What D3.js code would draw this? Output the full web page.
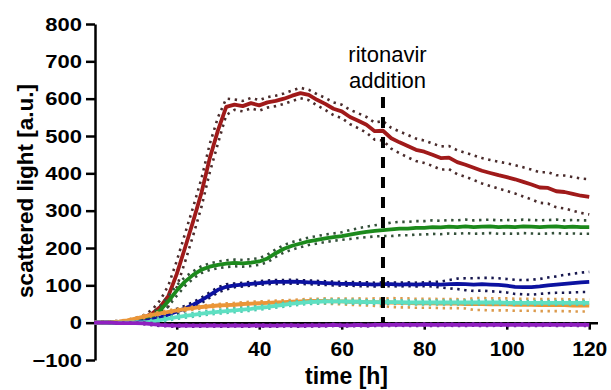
<!DOCTYPE html>
<html><head><meta charset="utf-8">
<script src="https://cdn.jsdelivr.net/npm/d3@7"></script>
<style>
html,body{margin:0;padding:0;background:#fff;}
svg{display:block;font-family:"Liberation Sans",Arial,sans-serif;}
</style></head>
<body>
<svg id="c" width="611" height="390"></svg>
<script>
const times = [0,2,4,6,8,10,12,14,16,18,20,22,24,26,28,30,32,34,36,38,40,42,44,46,48,50,52,54,56,58,60,62,64,66,68,70,72,74,76,78,80,82,84,86,88,90,92,94,96,98,100,102,104,106,108,110,112,114,116,118,120];

const redMean = [0,0,1,2,4,8,14,24,42,72,130,200,272,348,440,515,578,584,580,588,582,590,594,600,608,615,610,597,586,573,566,551,541,530,513,514,494,483,473,463,458,450,441,442,430,423,415,407,401,395,390,384,377,370,362,361,352,350,345,340,337];
const redSd = [2,2,2,3,3,4,6,10,18,28,35,38,38,38,38,35,22,14,14,14,14,14,14,14,14,14,14,15,16,17,18,19,20,21,23,26,28,29,30,30,30,30,31,31,32,32,33,34,35,36,37,38,39,40,41,42,43,44,45,46,47];

const greenMean = [0,0,0,1,2,4,8,16,33,58,86,110,128,142,150,155,158,160,159,161,164,172,186,198,206,212,218,222,226,229,232,236,240,243,246,248,250,252,252,254,254,256,255,257,256,258,256,257,258,256,257,256,258,257,256,257,258,256,257,256,256];
const greenSd = [2,2,2,2,2,2,4,8,12,14,14,12,10,9,9,9,9,9,9,9,9,10,10,10,10,10,10,10,10,10,10,12,13,14,15,16,18,18,18,18,18,18,18,18,18,18,18,18,18,18,18,18,18,18,18,18,18,18,18,18,18];

const blueMean = [0,0,0,0,1,2,4,8,14,22,30,38,48,60,74,88,96,100,102,104,106,108,109,109,110,109,108,107,106,105,104,104,103,103,102,103,103,102,103,102,103,103,102,103,104,103,102,103,102,101,99,96,95,95,97,100,102,104,106,108,109];
const blueSd = [2,2,2,2,2,2,2,2,7,7,7,7,7,7,7,7,7,5,5,5,5,5,5,5,5,5,5,5,5,5,5,5,5,5,5,5,5,5,5,5,5,6,8,11,14,16,17,17,18,18,18,19,19,20,20,21,22,24,25,26,27];

const orangeMean = [0,0,1,3,6,11,16,21,25,29,33,36,39,42,44,46,47,48,50,51,52,53,54,55,56,57,58,58,58,57,57,56,56,55,55,54,54,53,53,52,52,52,51,51,51,50,50,50,49,49,49,48,48,48,47,47,47,47,46,46,46];
const orangeSd = [2,2,2,2,2,2,4,4,4,4,4,4,4,4,4,4,5,5,5,5,5,5,5,5,5,5,6,6,7,7,8,8,9,9,10,10,12,12,12,12,12,12,12,12,12,12,16,16,16,16,16,16,16,16,16,16,16,16,16,16,16];

const turqMean = [0,0,0,0,0,1,1,3,7,11,15,18,21,24,27,29,31,33,35,37,40,42,45,48,51,53,55,56,57,57,57,56,56,55,55,55,55,55,54,54,54,54,54,54,54,54,54,54,54,54,53,53,53,53,53,53,53,53,53,53,53];
const turqSd = [1,1,1,1,1,1,1,5,5,5,5,5,5,5,5,5,5,5,5,5,5,5,5,5,5,5,5,5,5,5,5,5,5,5,5,5,5,5,5,5,5,5,5,5,5,5,5,5,5,5,5,5,5,5,5,5,5,5,5,5,5];

const purpleMean = [0,0,0,-1,-1,-1,-2,-4,-6,-7,-8,-7,-8,-8,-7,-8,-8,-7,-8,-8,-7,-8,-8,-7,-7,-8,-7,-7,-7,-6,-7,-7,-6,-7,-6,-6,-6,-5,-6,-6,-5,-6,-6,-5,-6,-6,-5,-6,-6,-5,-6,-6,-5,-6,-6,-5,-6,-6,-5,-6,-6];
const purpleSd = [1,1,1,1,1,1,2,3,3,3,3,3,3,3,3,3,3,3,3,3,3,3,3,3,3,3,3,3,3,3,3,3,3,3,3,3,3,3,3,3,3,3,3,3,3,3,3,3,3,3,3,3,3,3,3,3,3,3,3,3,3];

const xTicks = [20,40,60,80,100,120];
const yTicks = [-100,0,100,200,300,400,500,600,700,800];
const additionTime = 70;

const series = [
  {mean: redMean, sd: redSd, color: "#a01a1a", dot: "#4a2c2c"},
  {mean: greenMean, sd: greenSd, color: "#1c8a1c", dot: "#34503a"},
  {mean: blueMean, sd: blueSd, color: "#0c12a0", dot: "#16164e"},
  {mean: orangeMean, sd: orangeSd, color: "#eb9638", dot: "#dc9a4c"},
  {mean: turqMean, sd: turqSd, color: "#5ee0c2", dot: "#4fc8b0"},
  {mean: purpleMean, sd: purpleSd, color: "#9020c0", dot: "#5a1a80"}
];

const svg = d3.select("#c");
const x = d3.scaleLinear().domain([0,122]).range([94.2,597.5]);
const y = d3.scaleLinear().domain([-100,800]).range([360,24]);

// y axis
const ya = svg.append("g").attr("transform","translate(95,0)")
  .call(d3.axisLeft(y).tickValues(yTicks).tickSize(9).tickSizeOuter(0).tickPadding(4));
ya.select(".domain").attr("stroke","#000").attr("stroke-width",2.5);
ya.selectAll(".tick line").attr("stroke","#000").attr("stroke-width",2.5);
ya.selectAll(".tick text").attr("font-size",22).attr("font-weight","bold").attr("fill","#000")
  .attr("font-family","'Liberation Sans',Arial,sans-serif").attr("transform","scale(1,0.86)");

// x axis at zero
const xa = svg.append("g").attr("transform","translate(0,"+y(0)+")")
  .call(d3.axisBottom(x).tickValues(xTicks).tickSize(7).tickSizeOuter(0).tickPadding(11));
xa.select(".domain").attr("stroke","#000").attr("stroke-width",2.5);
xa.selectAll(".tick line").attr("stroke","#000").attr("stroke-width",2.5);
xa.selectAll(".tick text").attr("font-size",21).attr("font-weight","bold").attr("fill","#000")
  .attr("font-family","'Liberation Sans',Arial,sans-serif");

// data
const line = d3.line().x((d,i)=>x(times[i])).y(d=>y(d));
series.forEach(s=>{
  const up = s.mean.map((m,i)=>m + s.sd[i]);
  const lo = s.mean.map((m,i)=>m - s.sd[i]);
  [up,lo].forEach(arr=>{
    svg.append("path").datum(arr).attr("d",line).attr("fill","none")
      .attr("stroke",s.dot).attr("stroke-width",2.6).attr("stroke-dasharray","2.4,4.6");
  });
  svg.append("path").datum(s.mean).attr("d",line).attr("fill","none")
    .attr("stroke",s.color).attr("stroke-width",3.8).attr("stroke-linejoin","round");
});

// ritonavir addition marker
svg.append("line").attr("x1",x(additionTime)).attr("x2",x(additionTime))
  .attr("y1",97).attr("y2",y(0)).attr("stroke","#000").attr("stroke-width",4)
  .attr("stroke-dasharray","11,9");
svg.append("text").attr("x",x(additionTime)+4.5).attr("y",62).attr("text-anchor","middle")
  .attr("font-size",22).attr("fill","#000").text("ritonavir");
svg.append("text").attr("x",x(additionTime)+4.5).attr("y",88).attr("text-anchor","middle")
  .attr("font-size",22).attr("fill","#000").text("addition");

// axis titles
svg.append("text").attr("transform","translate(33,191) rotate(-90)").attr("text-anchor","middle")
  .attr("font-size",22.5).attr("font-weight","bold").attr("fill","#000").text("scattered light [a.u.]");
svg.append("text").attr("x",346.5).attr("y",384).attr("text-anchor","middle")
  .attr("font-size",23).attr("font-weight","bold").attr("fill","#000").text("time [h]");
</script>
</body></html>
